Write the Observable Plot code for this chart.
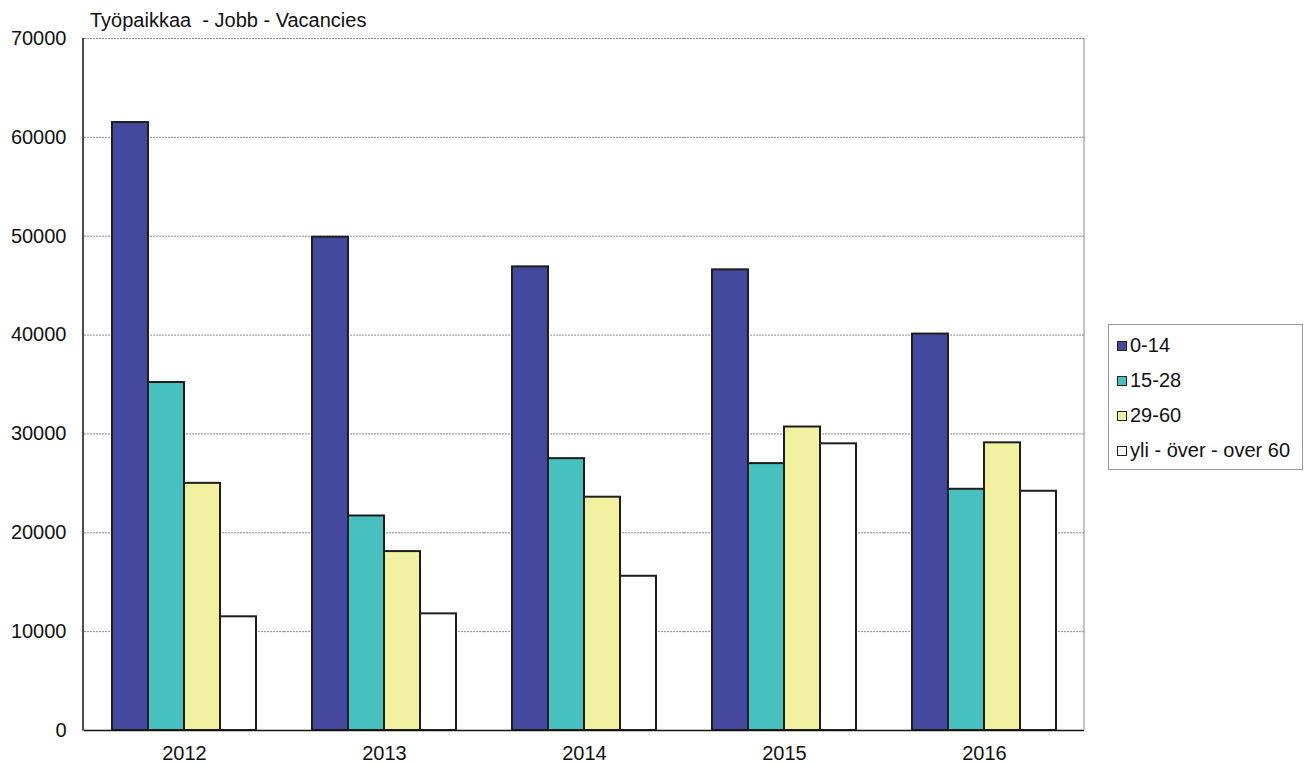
<!DOCTYPE html>
<html>
<head>
<meta charset="utf-8">
<script src="https://cdn.jsdelivr.net/npm/d3@7"></script>
<script src="https://cdn.jsdelivr.net/npm/@observablehq/plot@0.6"></script>
<style>
  body { margin: 0; background: #fff; font-family: "Liberation Sans", Arial, sans-serif; }
  #wrap { position: relative; width: 1311px; height: 765px; overflow: hidden; }
  #title { position: absolute; left: 90px; top: 9px; font-size: 20px; line-height: 22px; color: #111; white-space: pre; }
  #chart { position: absolute; left: 0; top: 28px; }
  #legend { position: absolute; left: 1108px; top: 324px; width: 195px; height: 146px; box-sizing: border-box;
            border: 1px solid #999; padding-top: 3px; font-size: 20px; color: #111; }
  .item { height: 35px; line-height: 35px; white-space: nowrap; display: flex; align-items: center; }
  .sw { display: inline-block; width: 8px; height: 8px; border: 1.5px solid #222; margin-left: 8px; margin-right: 3px; }
</style>
</head>
<body>
<div id="wrap">
  <div id="title"></div>
  <div id="chart"></div>
  <div id="legend"></div>
</div>
<script>
const titleText = "Työpaikkaa  - Jobb - Vacancies";
const years = ["2012", "2013", "2014", "2015", "2016"];
const series = ["0-14", "15-28", "29-60", "yli - över - over 60"];
const colors = ["#434a9e", "#47c1bf", "#f2f1a0", "#ffffff"];
const v0_14  = [61500, 49900, 46900, 46600, 40100];
const v15_28 = [35200, 21700, 27500, 27000, 24400];
const v29_60 = [25000, 18100, 23600, 30700, 29100];
const vOver60 = [11500, 11800, 15600, 29000, 24200];
const yTicks = [0, 10000, 20000, 30000, 40000, 50000, 60000, 70000];

const seriesValues = [v0_14, v15_28, v29_60, vOver60];
const rows = [];
years.forEach((yr, i) => series.forEach((s, j) => rows.push({year: yr, group: s, value: seriesValues[j][i]})));

document.getElementById("title").textContent = titleText;

const W = 1102, H = 737;
const mL = 83, mR = 18, mT = 10, mB = 35;

const plot = Plot.plot({
  width: W, height: H,
  marginLeft: mL, marginRight: mR, marginTop: mT, marginBottom: mB,
  style: { fontFamily: "Liberation Sans, Arial, sans-serif", fontSize: "20px", color: "#111", background: "transparent" },
  fx: { domain: years, padding: 0, label: null, tickSize: 0, tickPadding: 15, axis: "bottom" },
  x: { domain: series, paddingInner: 0, paddingOuter: 0.72, axis: null },
  y: { domain: [0, 70000], ticks: yTicks, tickFormat: d => String(d), tickSize: 0, tickPadding: 18, label: null },
  color: { domain: series, range: colors },
  marks: [
    Plot.ruleY(yTicks.filter(d => d > 0), { stroke: "#888", strokeWidth: 1, strokeDasharray: "2,1" }),
    Plot.barY(rows, { fx: "year", x: "group", y: "value", fill: "group", stroke: "#1e1e1e", strokeWidth: 2 }),
    Plot.ruleY([0], { stroke: "#111", strokeWidth: 1.5 })
  ]
});
document.getElementById("chart").appendChild(plot);

// outer left (axis) and right (frame) lines, placed with the plot's own scales
const ys = plot.scale("y");
const y0 = ys.apply(0), y1 = ys.apply(70000);
let xl = mL, xr = W - mR;
try {
  const fx = plot.scale("fx");
  if (fx && fx.range) { xl = Math.min(...fx.range); xr = Math.max(...fx.range); }
} catch (e) {}
const svg = d3.select(plot.tagName.toLowerCase() === "svg" ? plot : plot.querySelector("svg"));
svg.append("line").attr("x1", xr).attr("x2", xr).attr("y1", y1).attr("y2", y0).attr("stroke", "#888").attr("stroke-width", 1);
svg.append("line").attr("x1", xl).attr("x2", xl).attr("y1", y1).attr("y2", y0 + 0.75).attr("stroke", "#111").attr("stroke-width", 1.5);

// legend
const legend = d3.select("#legend");
series.forEach((s, i) => {
  const it = legend.append("div").attr("class", "item");
  it.append("span").attr("class", "sw").style("background", colors[i]);
  it.append("span").text(s);
});
</script>
</body>
</html>
